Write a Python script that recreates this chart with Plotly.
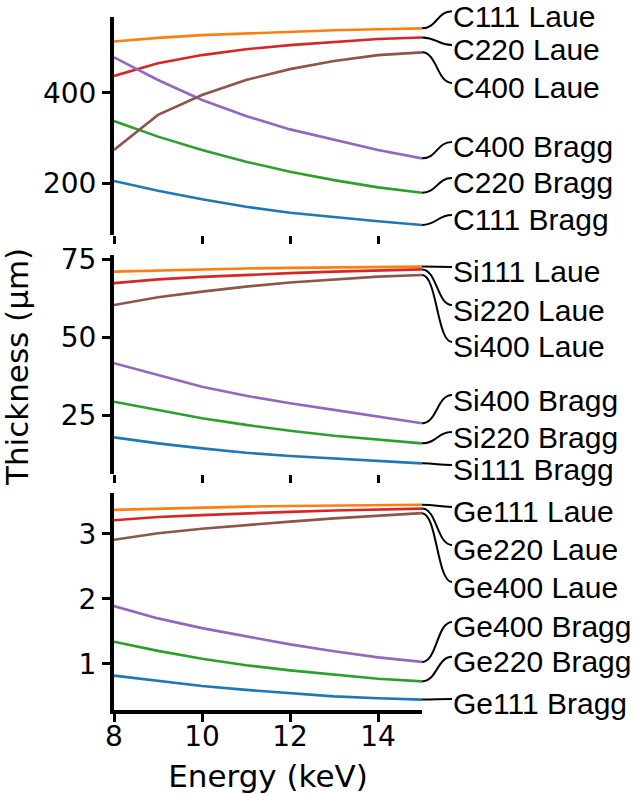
import plotly.graph_objects as go

# ---------------- data ----------------
energy = [8, 9, 10, 11, 12, 13, 14, 15]

# Diamond (C)
c111_bragg = [205, 183.6, 164.6, 148, 135, 125, 116, 108]
c111_laue = [513, 521, 527, 531, 535, 538, 540, 542]
c220_bragg = [337.5, 303, 273.5, 247.6, 225.6, 207, 191, 179]
c220_laue = [437, 465, 483, 496, 505, 512.6, 518.6, 522]
c400_bragg = [478, 428, 384, 348.5, 319, 295.6, 273.5, 255]
c400_laue = [273.5, 351, 395, 428, 452, 470, 483, 489]

# Silicon (Si)
si111_bragg = [18.0, 16.1, 14.5, 13.1, 12.05, 11.2, 10.5, 9.7]
si111_laue = [71.0, 71.4, 71.7, 72.0, 72.2, 72.4, 72.5, 72.6]
si220_bragg = [29.4, 26.8, 24.1, 22.0, 20.1, 18.5, 17.2, 16.1]
si220_laue = [67.3, 68.5, 69.3, 70.0, 70.5, 71.0, 71.4, 71.7]
si400_bragg = [41.7, 38.0, 34.2, 31.3, 28.9, 26.8, 24.6, 22.5]
si400_laue = [60.3, 62.8, 64.6, 66.2, 67.5, 68.5, 69.4, 69.9]

# Germanium (Ge)
ge111_bragg = [0.82, 0.74, 0.66, 0.60, 0.545, 0.50, 0.47, 0.45]
ge111_laue = [3.37, 3.39, 3.41, 3.42, 3.43, 3.44, 3.445, 3.45]
ge220_bragg = [1.34, 1.20, 1.08, 0.98, 0.90, 0.83, 0.77, 0.73]
ge220_laue = [3.21, 3.26, 3.29, 3.32, 3.34, 3.36, 3.38, 3.39]
ge400_bragg = [1.89, 1.70, 1.55, 1.42, 1.30, 1.195, 1.10, 1.03]
ge400_laue = [2.91, 3.01, 3.08, 3.14, 3.19, 3.24, 3.28, 3.32]

# label names, in drawing order (matplotlib colour cycle order)
c_names = ["C111 Bragg", "C111 Laue", "C220 Bragg", "C220 Laue", "C400 Bragg", "C400 Laue"]
si_names = ["Si111 Bragg", "Si111 Laue", "Si220 Bragg", "Si220 Laue", "Si400 Bragg", "Si400 Laue"]
ge_names = ["Ge111 Bragg", "Ge111 Laue", "Ge220 Bragg", "Ge220 Laue", "Ge400 Bragg", "Ge400 Laue"]

# label heights (data units of each panel) where the connectors end
c_label_y = [130.0, 580.0, 211.7, 505.3, 291.2, 421.4]
si_label_y = [9.2, 72.5, 19.7, 60.3, 31.55, 48.5]
ge_label_y = [0.46, 3.415, 1.108, 2.83, 1.646, 2.26]

# y-axis ranges and ticks
c_range = [85.8, 567.1]
si_range = [6.3, 76.3]
ge_range = [0.29, 3.63]
c_ticks = [200, 400]
si_ticks = [25, 50, 75]
ge_ticks = [1, 2, 3]
x_ticks = [8, 10, 12, 14]

colors = ["#1f77b4", "#ff7f0e", "#2ca02c", "#d62728", "#9467bd", "#8c564b"]

# ---------------- layout geometry ----------------
W, H = 640, 794
ML, MR, MT, MB = 114, 0, 0, 0
PW = W - ML - MR
PH = H - MT - MB


def ydom(top_px, bot_px):
    return [(H - MB - bot_px) / PH, (H - MB - top_px) / PH]


dom1 = ydom(17, 235)
dom2 = ydom(255, 474)
dom3 = ydom(493, 710)
x_end = (422 - ML) / PW
x_lab = (422 + 33 - ML) / PW


def ext_range(r, d):
    span = (r[1] - r[0]) / (d[1] - d[0])
    return [r[0] - d[0] * span, r[1] + (1 - d[1]) * span]


panels = [
    (
        [c111_bragg, c111_laue, c220_bragg, c220_laue, c400_bragg, c400_laue],
        c_names, c_label_y, "x", "y", "y4",
    ),
    (
        [si111_bragg, si111_laue, si220_bragg, si220_laue, si400_bragg, si400_laue],
        si_names, si_label_y, "x2", "y2", "y5",
    ),
    (
        [ge111_bragg, ge111_laue, ge220_bragg, ge220_laue, ge400_bragg, ge400_laue],
        ge_names, ge_label_y, "x3", "y3", "y6",
    ),
]

fig = go.Figure()
shapes = []
annotations = []
label_font = dict(family="Liberation Sans, Arial, sans-serif", size=30, color="black")

for series, names, label_y, xa, ya, ya_ov in panels:
    for vals, name, ly, col in zip(series, names, label_y, colors):
        fig.add_trace(go.Scatter(
            x=energy, y=vals, mode="lines", name=name,
            line=dict(color=col, width=2.6),
            xaxis=xa, yaxis=ya, showlegend=False, hoverinfo="skip",
        ))
        y0 = vals[-1]
        shapes.append(dict(
            type="path", xref="x4", yref=ya_ov,
            path=f"M 0,{y0} C 0.5,{y0} 0.5,{ly} 1,{ly}",
            line=dict(color="black", width=2),
        ))
        annotations.append(dict(
            text=name, xref="x4", yref=ya_ov, x=1, y=ly,
            xanchor="left", yanchor="middle", xshift=-1, yshift=-5,
            showarrow=False, font=label_font,
        ))
    fig.add_trace(go.Scatter(x=[], y=[], xaxis="x4", yaxis=ya_ov,
                             showlegend=False, hoverinfo="skip"))

annotations.append(dict(
    text="Thickness (µm)", xref="paper", yref="paper",
    x=(17 - ML) / PW, y=(H - MB - 367) / PH, textangle=-90,
    xanchor="center", yanchor="middle", showarrow=False,
    font=dict(family="DejaVu Sans", size=31, color="black"),
))

tick_font = dict(family="DejaVu Sans", size=28, color="black")

yax_common = dict(showline=True, linecolor="black", linewidth=4, ticks="outside",
                  ticklen=8, tickwidth=3, tickcolor="black", showgrid=False,
                  zeroline=False, tickfont=tick_font, mirror=False)
xax_common = dict(range=[8, 15], tickvals=x_ticks, ticks="outside", ticklen=8,
                  tickwidth=3, tickcolor="black", showgrid=False, zeroline=False,
                  tickfont=tick_font, domain=[0, x_end])

fig.update_layout(
    width=W, height=H,
    margin=dict(l=ML, r=MR, t=MT, b=MB, pad=0, autoexpand=False),
    paper_bgcolor="white", plot_bgcolor="rgba(0,0,0,0)",
    font=dict(family="DejaVu Sans", color="black"),
    xaxis=dict(**xax_common, anchor="y", showline=False, showticklabels=False),
    xaxis2=dict(**xax_common, anchor="y2", showline=False, showticklabels=False),
    xaxis3=dict(**xax_common, anchor="y3", showline=True, linecolor="black", linewidth=4,
                showticklabels=True, ticklabelstandoff=-10,
                title=dict(text="Energy (keV)", font=dict(family="DejaVu Sans", size=31),
                           standoff=16)),
    yaxis=dict(**yax_common, domain=dom1, range=c_range, tickvals=c_ticks, anchor="x"),
    yaxis2=dict(**yax_common, domain=dom2, range=si_range, tickvals=si_ticks, anchor="x2"),
    yaxis3=dict(**yax_common, domain=dom3, range=ge_range, tickvals=ge_ticks, anchor="x3"),
    xaxis4=dict(domain=[x_end, x_lab], range=[0, 1.1], visible=False, anchor="y4",
                fixedrange=True),
    yaxis4=dict(domain=[0, 1], range=ext_range(c_range, dom1), visible=False, anchor="x4"),
    yaxis5=dict(range=ext_range(si_range, dom2), visible=False, anchor="x4", overlaying="y4"),
    yaxis6=dict(range=ext_range(ge_range, dom3), visible=False, anchor="x4", overlaying="y4"),
    shapes=shapes,
    annotations=annotations,
)

fig.write_html("out.html", config={"displayModeBar": False},
               post_script="document.body.style.margin='0px';")
